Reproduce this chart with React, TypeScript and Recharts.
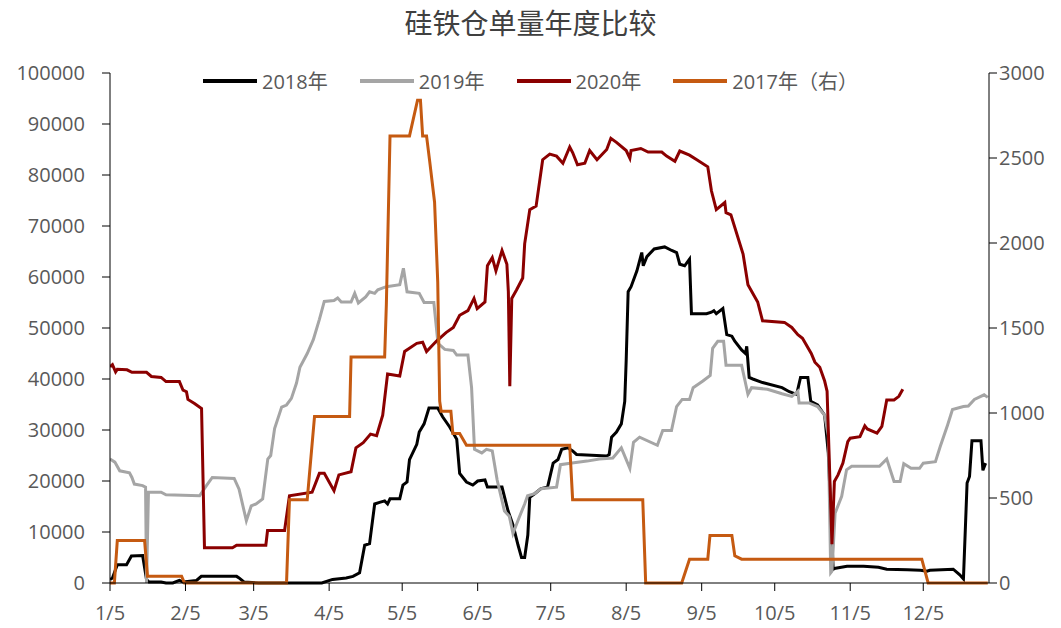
import React from "react";
import { LineChart, Line, XAxis, YAxis } from "recharts";

// x = day of year (1/5 = 5)
const monthTicks = ["1/5", "2/5", "3/5", "4/5", "5/5", "6/5", "7/5", "8/5", "9/5", "10/5", "11/5", "12/5"];
const monthDays = [31, 28, 31, 30, 31, 30, 31, 31, 30, 31, 30, 31];

const leftTicks = [0, 10000, 20000, 30000, 40000, 50000, 60000, 70000, 80000, 90000, 100000];
const rightTicks = [0, 500, 1000, 1500, 2000, 2500, 3000];

const s2018: [number, number][] = [
  [5, 700], [6, 1000], [8, 3600], [11.8, 3600], [13.8, 5300], [18.4, 5400], [20, 700], [21, 200], [26, 200],
  [28, 0], [30.8, 0], [33.5, 500], [35, 200], [40.5, 500], [42.5, 1300], [57, 1300], [58, 1000], [60, 200],
  [66, 0], [92, 0], [96.4, 700], [102, 1000], [104.8, 1300], [107.5, 2000], [109.6, 7400], [111.6, 7700],
  [113.7, 15500], [115.7, 15800], [117.8, 16100], [119, 15500], [120, 16500], [124, 16500], [125.3, 19200],
  [127, 19800], [128, 24200], [131, 27200], [132, 29600], [134, 31200], [136, 34300], [139.6, 34300],
  [141.6, 32600], [144.5, 30600], [147.4, 28200], [148.6, 21500], [151.4, 19800], [154, 19200], [156, 20000],
  [159, 20200], [160, 18800], [166, 18800], [168.5, 14100], [170.5, 11400], [172.6, 7400], [174, 5000],
  [175.3, 5000], [176.6, 9400], [177.4, 16800], [179.4, 17500], [182, 18500], [184.7, 18800], [187, 23500],
  [189, 24200], [190.5, 26200], [193, 26500], [195, 25900], [196.6, 25200], [209, 24900], [210, 25200],
  [211, 28600], [213, 29600], [215, 31200], [216.4, 35600], [217, 43700], [217.8, 57100], [219, 58100],
  [221.4, 61200], [223.4, 64800], [224, 62200], [225.5, 64000], [228.5, 65500], [232.8, 65900], [235.7, 65200],
  [237.7, 64800], [239, 62500], [241, 62200], [243, 63500], [243.8, 52800], [250, 52800], [252, 53100],
  [253, 53400], [254, 52800], [256.7, 53800], [258.3, 48700], [260.4, 48400], [261.6, 47400], [264.4, 45700],
  [266, 45000], [266.5, 46400], [267.5, 40300], [269, 40000], [273, 39300], [281, 38300], [284, 37500],
  [287, 37000], [288.6, 40300], [291.6, 40300], [292.8, 35600], [295.6, 34900], [298.5, 32900], [300, 25500],
  [302, 2700], [303, 2900], [307.7, 3300], [314.5, 3300], [320.6, 3100], [324, 2700], [332.5, 2600],
  [337.8, 2500], [340.5, 2300], [341.7, 2500], [351.3, 2700], [354, 1600], [355.5, 800], [357, 19600],
  [358, 20900], [359, 27900], [362.7, 27900], [363.5, 22100], [364.6, 23500],
];

const s2019: [number, number][] = [
  [5, 24300], [7, 23700], [9, 22000], [13, 21600], [14, 20700], [15, 19400], [18.4, 19100], [19.6, 18800],
  [20, 0], [20.8, 17800], [26, 17800], [28, 17300], [41.8, 17100], [44.6, 19100], [47, 20700], [56, 20500],
  [58, 18400], [61, 12200], [63, 15100], [65, 15500], [67.7, 16500], [69.8, 24300], [71, 25000], [72.6, 30300],
  [75.5, 34500], [77.5, 34900], [79.5, 36200], [81.6, 39200], [83, 42300], [86, 45000], [88.5, 47700],
  [91, 51700], [93, 55200], [97, 55400], [98.5, 55900], [100, 55100], [104, 55100], [105.5, 56800],
  [107, 54900], [110, 56100], [111.6, 57100], [113.7, 56800], [115, 57500], [118.5, 58100], [124, 58500],
  [125.5, 61700], [127, 57100], [132, 56800], [134, 55000], [138, 55000], [139.7, 47000], [142.5, 45800],
  [146, 45600], [147.4, 44700], [152, 44700], [153.5, 38300], [154.7, 26200], [157.7, 25500], [159.6, 26200],
  [162, 25900], [164, 20200], [167, 14100], [169, 13100], [170.5, 9700], [173, 12800], [175.3, 15500],
  [176.5, 17100], [179.4, 17500], [182, 18500], [188.4, 18800], [190, 23200], [194, 23500], [200.9, 23900],
  [206, 24300], [211.5, 24500], [215, 26500], [218.5, 22500], [220, 27600], [222.5, 28600], [229.8, 27000],
  [232, 29900], [235.6, 29900], [237.7, 34600], [240, 36000], [243, 36000], [244.5, 38300], [248.5, 39600],
  [251.5, 40700], [252.5, 46000], [254.6, 47400], [257, 47400], [258, 42700], [264.4, 42700], [267, 37000],
  [268.5, 38300], [275, 38000], [281, 37100], [285, 36600], [287.5, 37600], [288, 35300], [292, 35300],
  [295.6, 34600], [298.5, 32900], [300, 28900], [301, 2000], [301.5, 2300], [302.8, 13700], [305.5, 17000],
  [307.5, 22200], [309.6, 22900], [321, 22900], [324, 24300], [327, 19900], [329.5, 19900], [331, 23400],
  [334, 22500], [337.5, 22500], [339, 23500], [344, 23800], [346, 26800], [349, 31000], [351, 34000],
  [355.5, 34600], [357.5, 34700], [360, 36000], [364, 36900], [365.5, 36400],
];

const s2020: [number, number][] = [
  [5, 42400], [6, 42800], [7.3, 41400], [8, 41900], [12, 41800], [14, 41300], [20, 41300], [22, 40500],
  [26, 40300], [28, 39500], [33.5, 39500], [35, 37800], [36.4, 37500], [37, 36000], [39.7, 35200],
  [42.6, 34200], [43.8, 6900], [55.3, 6900], [57, 7400], [69, 7400], [69.7, 10300], [76.7, 10300],
  [78.7, 17100], [88, 17800], [91, 21500], [93, 21500], [97, 18100], [99, 21200], [104, 21800], [106, 26500],
  [109, 27500], [112, 29200], [114.5, 28900], [117, 32900], [119, 41000], [124, 40600], [126, 45400],
  [131, 47000], [133.4, 47200], [135, 45400], [139, 47400], [143, 49100], [146, 50100], [148.6, 52500],
  [152, 53400], [154.5, 55800], [155.8, 53800], [159, 55100], [160, 62200], [162, 63800], [163.5, 61200],
  [166, 65200], [168, 62500], [168.6, 57100], [169.2, 38600], [170, 55800], [172, 57500], [174.5, 59800],
  [175.3, 66500], [177.4, 73200], [180, 73900], [182.7, 83000], [185.6, 84100], [188.4, 83700], [191, 82300],
  [193.8, 85500], [195, 84400], [197, 82000], [200, 82300], [202, 84800], [205, 83000], [209, 85000],
  [210.7, 87200], [213, 86400], [217, 84800], [218.5, 83300], [219, 84800], [223, 85200], [226, 84500],
  [231.6, 84500], [233.6, 83700], [237, 82700], [239, 84700], [243, 83900], [246, 83000], [250.5, 81600],
  [252, 76900], [254, 73200], [257.5, 74600], [258, 72600], [260, 72200], [265, 64500], [267, 58500],
  [271, 55100], [273, 51400], [282, 51100], [285, 50100], [287.5, 48700], [289.4, 48000], [293, 45000],
  [294.5, 43300], [296.5, 42300], [298.5, 39600], [299.5, 37600], [301.5, 7600], [302.5, 19900], [304, 21200],
  [306, 23500], [308, 27700], [309, 28400], [313, 28700], [315, 30800], [316, 30200], [320, 29400],
  [322, 30700], [324, 35900], [327, 35900], [329, 36600], [330.6, 38000],
];

// 2017 is on the right axis
const s2017: [number, number][] = [
  [5, 0], [6.8, 0], [8, 250], [19.2, 250], [20.4, 40], [34.4, 40], [35.6, 0], [77.5, 0], [78.7, 490],
  [86, 490], [89, 980], [103.4, 980], [104, 1330], [117.8, 1330], [118.5, 1640], [120, 2630], [128, 2630],
  [131.3, 2840], [132.5, 2840], [133.4, 2630], [135, 2630], [136.3, 2480], [138.3, 2240], [139.6, 1770],
  [140.4, 1070], [141, 1010], [145, 1010], [145.8, 880], [148.6, 880], [151.4, 810], [193.8, 810], [195, 490],
  [223.8, 490], [225, 0], [239.8, 0], [243, 140], [250.5, 140], [251.4, 280], [260.4, 280], [261.6, 160],
  [264.4, 140], [338.4, 140], [341, 0], [365.5, 0],
];

const toRows = (pts: [number, number][]) => pts.map(([d, v]) => ({ d, v }));

const tickDays = monthTicks.map((_, i) => monthDays.slice(0, i).reduce((a, b) => a + b, 0) + 5);

const series = [
  { name: "2018年", color: "#000000", data: toRows(s2018), axis: "left" },
  { name: "2019年", color: "#A5A5A5", data: toRows(s2019), axis: "left" },
  { name: "2020年", color: "#8B0000", data: toRows(s2020), axis: "left" },
  { name: "2017年（右）", color: "#C55A11", data: toRows(s2017), axis: "right" },
];

const FONT = "'Open Sans', 'Noto Sans CJK SC', sans-serif";
const tickStyle = { fill: "#595959", fontSize: 20, fontFamily: FONT };

export default function App() {
  return (
    <div style={{ position: "absolute", left: 0, top: 0, width: 1061, height: 628, background: "#fff" }}>
      <div
        style={{
          position: "absolute", top: 2, left: 0, width: 1061, textAlign: "center",
          fontFamily: "'Noto Sans CJK SC', sans-serif", fontSize: 28, color: "#404040",
        }}
      >
        硅铁仓单量年度比较
      </div>
      <div
        style={{
          position: "absolute", top: 66, left: 0, width: 1061, display: "flex", justifyContent: "center",
          alignItems: "center", fontFamily: FONT, fontSize: 20, color: "#595959",
        }}
      >
        {series.map((s) => (
          <div key={s.name} style={{ display: "flex", alignItems: "center", margin: "0 16px" }}>
            <span style={{ display: "inline-block", width: 54, height: 4, background: s.color, marginRight: 5 }} />
            <span>{s.name}</span>
          </div>
        ))}
      </div>
      <div style={{ position: "absolute", left: 0, top: 0 }}>
        <LineChart width={1061} height={628} margin={{ top: 73, right: 0, left: 0, bottom: 0 }}>
          <XAxis
            dataKey="d"
            type="number"
            domain={[5, 366]}
            ticks={tickDays}
            tickFormatter={(d: number) => monthTicks[tickDays.indexOf(d)] ?? ""}
            allowDataOverflow
            height={45}
            tick={tickStyle}
            tickSize={8}
            tickMargin={15}
            stroke="#000"
          />
          <YAxis
            yAxisId="left"
            domain={[0, 100000]}
            ticks={leftTicks}
            width={110}
            tick={tickStyle}
            tickSize={8}
            tickMargin={17}
            stroke="#000"
          />
          <YAxis
            yAxisId="right"
            orientation="right"
            domain={[0, 3000]}
            ticks={rightTicks}
            width={72}
            tick={tickStyle}
            tickSize={8}
            tickMargin={2}
            stroke="#000"
          />
          {series.map((s) => (
            <Line
              key={s.name}
              yAxisId={s.axis}
              data={s.data}
              dataKey="v"
              name={s.name}
              type="linear"
              stroke={s.color}
              strokeWidth={3}
              dot={false}
              activeDot={false}
              isAnimationActive={false}
            />
          ))}
        </LineChart>
      </div>
    </div>
  );
}
